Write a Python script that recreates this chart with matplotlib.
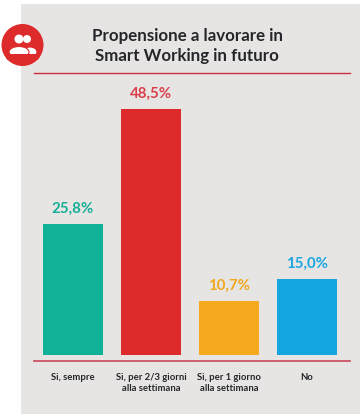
import matplotlib
matplotlib.use("Agg")
import matplotlib.pyplot as plt
from matplotlib.patches import Rectangle, Circle, Ellipse

W, H = 362, 418
categories = ["Si, sempre", "Si, per 2/3 giorni\nalla settimana", "Si, per 1 giorno\nalla settimana", "No"]
values = [25.8, 48.5, 10.7, 15.0]
labels = ["25,8%", "48,5%", "10,7%", "15,0%"]
colors = ["#10B297", "#DC2B2A", "#F4A91F", "#14A6E0"]
label_colors = ["#16AE94", "#D9404A", "#EFA91F", "#1AA5DF"]
title = "Propensione a lavorare in\nSmart Working in futuro"

plt.rcParams["font.family"] = ["Lato", "DejaVu Sans"]
fig = plt.figure(figsize=(W/100, H/100), dpi=100, facecolor="white")

bg = fig.add_axes([0, 0, 1, 1])
bg.set_xlim(0, W); bg.set_ylim(H, 0); bg.axis("off")
bg.add_patch(Rectangle((21, 4), 339, 410, fc="#E7E5E4", ec="none"))
bg.plot([34, 350], [73, 73], color="#C9303F", lw=1.0)
bg.plot([34, 350], [361, 361], color="#C9485A", lw=1.2)
bg.text(187, 36, title.split("\n")[0], ha="center", va="center", fontsize=12.2, fontweight="bold", color="#26262A")
bg.text(187, 56, title.split("\n")[1], ha="center", va="center", fontsize=12.2, fontweight="bold", color="#26262A")
# icon
disc = Circle((22.5, 45), 21, fc="#DC2B2A", ec="none")
bg.add_patch(disc)
bg.add_patch(Circle((19, 39), 4.5, fc="white", ec="none"))
bg.add_patch(Circle((27, 39), 4, fc="white", ec="none"))
bg.add_patch(Ellipse((30, 52), 14, 10, fc="white", ec="#DC2B2A", lw=0.8))
bg.add_patch(Ellipse((19, 52), 20, 11, fc="white", ec="#DC2B2A", lw=0.8))
cover = Rectangle((6, 53.5), 34, 6, fc="#DC2B2A", ec="none")
bg.add_patch(cover)
cover.set_clip_path(disc)

# axes: x positions 0..3 = 78 px apart, y: 5.07 px per unit, baseline at y=355
ax_left, ax_right = 34, 346
ax_top, ax_bot = 85, 355
ax = fig.add_axes([ax_left/W, 1-ax_bot/H, (ax_right-ax_left)/W, (ax_bot-ax_top)/H])
ax.patch.set_alpha(0)
x = list(range(len(values)))
ax.bar(x, values, width=60/78, color=colors)
ax.set_xlim(-0.5, 3.5)
ax.set_ylim(0, (ax_bot-ax_top)/5.07)
for s in ax.spines.values():
    s.set_visible(False)
ax.set_yticks([])
ax.set_xticks(x)
ax.set_xticklabels(categories, fontsize=6.8, fontweight="bold", color="#26262A", linespacing=1.25)
ax.tick_params(axis="x", length=0, pad=13)
for xi, v, l, c in zip(x, values, labels, label_colors):
    ax.annotate(l, (xi, v), xytext=(0, 6), textcoords="offset points", ha="center", va="bottom",
                fontsize=10.8, fontweight="bold", color=c)
fig.savefig("out.png", dpi=100)
